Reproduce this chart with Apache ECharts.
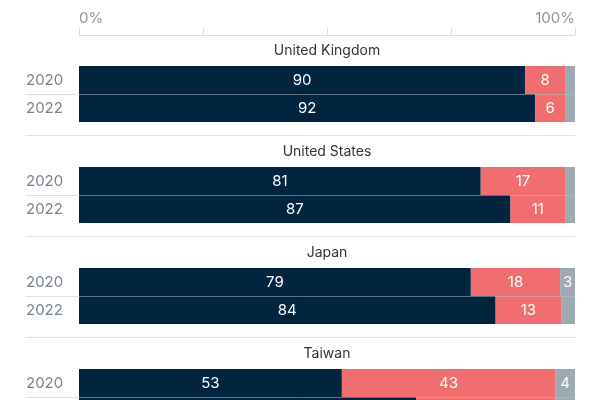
<!DOCTYPE html>
<html>
<head>
<meta charset="utf-8">
<script src="https://cdn.jsdelivr.net/npm/echarts@6/dist/echarts.min.js"></script>
<style>
  html, body { margin: 0; padding: 0; background: #fff; }
  #chart { width: 600px; height: 400px; }
</style>
</head>
<body>
<div id="chart"></div>
<script>
// data
var countries = ['United Kingdom', 'United States', 'Japan', 'Taiwan'];
var years = ['2020', '2022'];
var darkVals = [[90, 92], [81, 87], [79, 84], [53, 68]];
var redVals = [[8, 6], [17, 11], [18, 13.2], [43, 28]];
var greyVals = [[2, 2], [2, 2], [3, 2.8], [4, 4]];
var tickVals = [0, 25, 50, 75, 100];
var labelVals = [0, 100];

var colors = ['#02253f', '#f06e70', '#9eaab2'];
var fontFam = 'Inter, "Noto Sans", sans-serif';

var myChart = echarts.init(document.getElementById('chart'));

// bar area: 0 at x=79, 100 at x=575, grids start at x=26 (year labels)
var xMin = -(79 - 26) / ((575 - 79) / 100);

var grids = [{left: 79, right: 25, top: 34, height: 1, outerBoundsMode: 'none'}];
var xAxes = [{
    gridIndex: 0,
    type: 'value',
    position: 'top',
    min: 0,
    max: 100,
    axisLine: {show: true, lineStyle: {color: '#d6dee5', width: 1}},
    axisTick: {show: true, length: 7, customValues: tickVals, lineStyle: {color: '#d6dee5'}},
    axisLabel: {
        customValues: labelVals,
        formatter: '{value}%',
        color: '#8a949e',
        fontSize: 15,
        fontFamily: fontFam,
        margin: 8,
        alignMinLabel: 'left',
        alignMaxLabel: 'right'
    },
    splitLine: {show: false}
}];
var yAxes = [{gridIndex: 0, type: 'value', show: false}];
var titles = [];
var series = [];

for (var i = 0; i < countries.length; i++) {
    var g = i + 1;
    var gridTop = 66 + i * 101;
    grids.push({left: 26, right: 25, top: gridTop, bottom: 400 - gridTop - 56, outerBoundsMode: 'none'});
    titles.push({
        text: countries[i],
        left: 327,
        top: gridTop - 22,
        textAlign: 'center',
        padding: 0,
        textStyle: {fontSize: 14, fontWeight: 'normal', color: '#333', fontFamily: fontFam}
    });
    // value axis (hidden) with a thin line between the two years
    xAxes.push({
        gridIndex: g,
        type: 'value',
        position: 'top',
        min: xMin,
        max: 100,
        offset: -28,
        z: 5,
        axisLine: {show: true, onZero: false, lineStyle: {color: 'rgba(185,192,200,0.5)', width: 1}},
        axisTick: {show: false},
        axisLabel: {show: false},
        splitLine: {show: false}
    });
    // separator under each group
    xAxes.push({
        gridIndex: g,
        type: 'value',
        position: 'bottom',
        min: xMin,
        max: 100,
        offset: 13,
        axisLine: {show: true, onZero: false, lineStyle: {color: '#dde3e8', width: 1}},
        axisTick: {show: false},
        axisLabel: {show: false},
        splitLine: {show: false}
    });
    yAxes.push({
        gridIndex: g,
        type: 'category',
        inverse: true,
        data: years,
        axisLine: {show: false, onZero: false},
        axisTick: {show: false},
        axisLabel: {
            inside: true,
            margin: 0,
            color: '#78828d',
            fontSize: 15,
            fontFamily: fontFam
        }
    });
    var sets = [darkVals[i], redVals[i], greyVals[i]];
    var names = ['Favourable', 'Unfavourable', 'No answer'];
    for (var s = 0; s < sets.length; s++) {
        series.push({
            name: names[s],
            type: 'bar',
            stack: 'c' + i,
            xAxisIndex: xAxes.length - 2,
            yAxisIndex: yAxes.length - 1,
            barCategoryGap: '0%',
            data: sets[s],
            itemStyle: {color: colors[s]},
            label: {
                show: true,
                position: 'inside',
                color: '#fff',
                fontSize: 15,
                fontFamily: fontFam,
                formatter: function (p) { return p.value >= 3 ? Math.round(p.value) : ''; }
            },
            emphasis: {disabled: true}
        });
    }
}

var option = {
    animation: false,
    title: titles,
    grid: grids,
    xAxis: xAxes,
    yAxis: yAxes,
    series: series
};
myChart.setOption(option);
</script>
</body>
</html>
